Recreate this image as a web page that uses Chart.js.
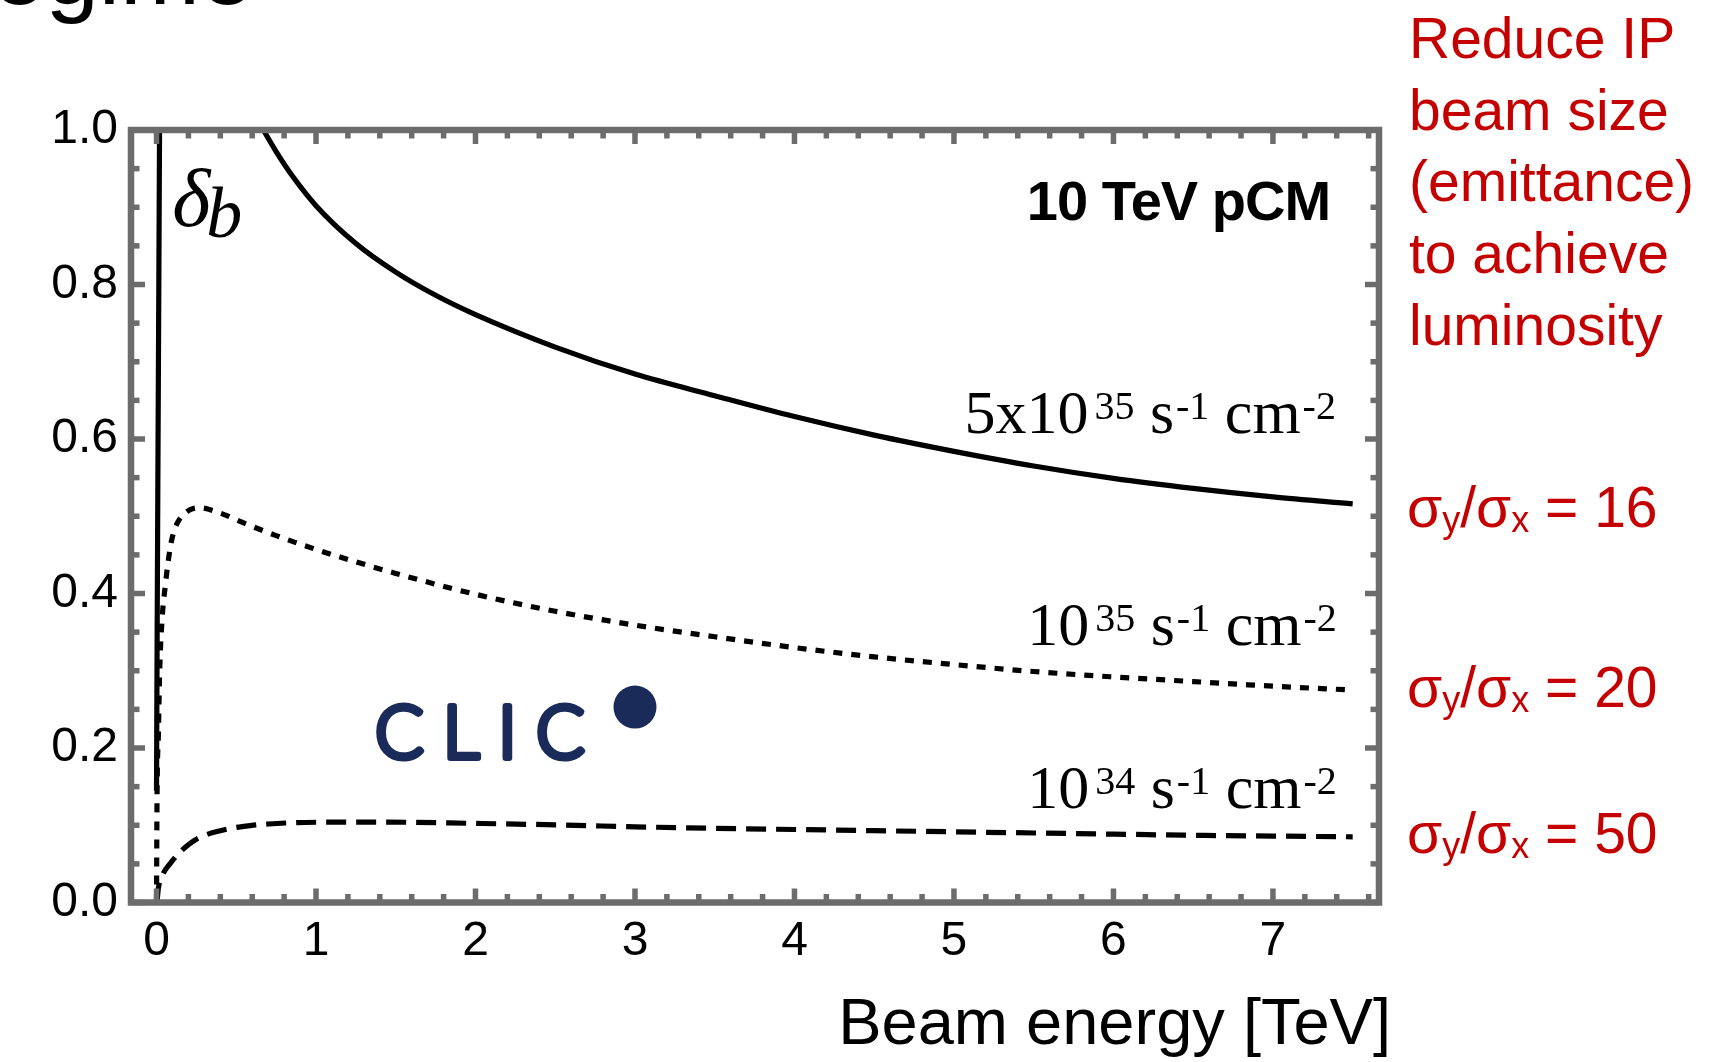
<!DOCTYPE html>
<html>
<head>
<meta charset="utf-8">
<title>Beamstrahlung energy loss vs beam energy</title>
<script src="https://cdn.jsdelivr.net/npm/chart.js@4.4.1/dist/chart.umd.min.js"></script>
<style>
  html, body { margin: 0; padding: 0; background: #ffffff; overflow: hidden; }
  #wrap { position: relative; width: 1727px; height: 1062px; }
</style>
</head>
<body>
<div id="wrap"><canvas id="chart"></canvas></div>
<script>
// Beam energy [TeV] and beamstrahlung energy loss delta_b for three luminosity targets
const highLumiEnergy = [0.67, 0.75, 0.85, 1.0, 1.25, 1.5, 1.75, 2.0, 2.5, 3.0, 3.5, 4.0, 4.5, 5.0, 5.5, 6.0, 6.5, 7.0, 7.5];
const highLumiDelta  = [1.0, 0.972, 0.941, 0.902, 0.853, 0.816, 0.786, 0.761, 0.719, 0.684, 0.656, 0.629, 0.605, 0.584, 0.565, 0.549, 0.536, 0.525, 0.516];

// steep low-energy branch of the 5x10^35 curve
const highLumiLowEnergy = [0.0, 0.004, 0.009, 0.014, 0.019];
const highLumiLowDelta  = [0.145, 0.35, 0.57, 0.78, 1.0];

const midLumiEnergy = [0.0, 0.003, 0.012, 0.02, 0.036, 0.055, 0.072, 0.096, 0.13, 0.19, 0.27, 0.4, 0.55, 0.75, 1.0, 1.25, 1.5, 2.0, 2.5, 3.0, 3.5, 4.0, 4.5, 5.0, 5.5, 6.0, 6.5, 7.0, 7.5];
const midLumiDelta  = [0.0, 0.13, 0.22, 0.30, 0.37, 0.41, 0.44, 0.47, 0.491, 0.506, 0.511, 0.504, 0.491, 0.475, 0.457, 0.441, 0.426, 0.399, 0.377, 0.359, 0.344, 0.330, 0.318, 0.308, 0.299, 0.292, 0.286, 0.280, 0.275];

const lowLumiEnergy = [0.003, 0.012, 0.036, 0.084, 0.156, 0.25, 0.4, 0.59, 0.78, 1.1, 1.45, 2.0, 2.5, 3.0, 3.5, 4.0, 4.5, 5.0, 5.5, 6.0, 6.5, 7.0, 7.5];
const lowLumiDelta  = [0.0, 0.019, 0.035, 0.050, 0.067, 0.082, 0.093, 0.0996, 0.1026, 0.104, 0.104, 0.1024, 0.1005, 0.098, 0.096, 0.0945, 0.093, 0.0915, 0.090, 0.0885, 0.087, 0.086, 0.085];

// CLIC operating point
const clicEnergy = [3.0];
const clicDelta  = [0.253];

// axis ticks
const xTickValues = [0, 1, 2, 3, 4, 5, 6, 7];
const yTickValues = [0, 0.2, 0.4, 0.6, 0.8, 1.0];
const xMinorStep = 0.2;
const yMinorStep = 0.05;

// ---------------------------------------------------------------------------
const W = 1727, H = 1062;
const PLOT = { left: 131, top: 130, right: 1379, bottom: 902.5 };
const FRAME_COLOR = '#6c6c6c';
const RED = '#c40000';
const NAVY = '#1a2b5a';
const SANS = '"Liberation Sans", Arial, Helvetica, sans-serif';
const SERIF = '"Liberation Serif", "Times New Roman", Times, serif';

const toPoints = (xs, ys) => xs.map((v, i) => ({ x: v, y: ys[i] }));

const lineStyle = {
  type: 'line',
  borderColor: '#000000',
  borderWidth: 5.2,
  pointRadius: 0,
  pointHoverRadius: 0,
  fill: false,
  cubicInterpolationMode: 'monotone',
  borderCapStyle: 'butt'
};

// draw a run of text pieces with their own font and vertical shift
function drawRich(ctx, parts, x, baseline, align) {
  const widths = parts.map(p => { ctx.font = p.font; return ctx.measureText(p.text).width + (p.gap || 0); });
  const total = widths.reduce((a, b) => a + b, 0);
  let cx = align === 'right' ? x - total : x;
  ctx.textAlign = 'left';
  ctx.textBaseline = 'alphabetic';
  parts.forEach((p, i) => {
    ctx.font = p.font;
    ctx.fillText(p.text, cx + (p.gap || 0), baseline + (p.dy || 0));
    cx += widths[i];
  });
}

function lumiLabel(mantissa, exponent) {
  const main = '62px ' + SERIF, sup = '40px ' + SERIF;
  return [
    { text: mantissa, font: main },
    { text: exponent, font: sup, dy: -14, gap: 6 },
    { text: ' s', font: main },
    { text: '-1', font: sup, dy: -14, gap: 2 },
    { text: ' cm', font: main },
    { text: '-2', font: sup, dy: -14, gap: 2 }
  ];
}

function ratioLabel(value) {
  const main = '57px ' + SANS, sub = '36px ' + SANS;
  return [
    { text: '\u03C3', font: main },
    { text: 'y', font: sub, dy: 5 },
    { text: '/\u03C3', font: main },
    { text: 'x', font: sub, dy: 5 },
    { text: ' = ' + value, font: main }
  ];
}

const decorPlugin = {
  id: 'decor',
  afterDatasetsDraw(chart) {
    const { ctx, chartArea: a, scales: { x, y } } = chart;
    ctx.save();
    ctx.fillStyle = FRAME_COLOR;
    const tw = 5.5, major = 14, minor = 8.5;

    // ticks on all four sides, pointing inward
    const xTick = (v, len) => {
      const px = x.getPixelForValue(v);
      ctx.fillRect(px - tw / 2, a.top, tw, len);
      ctx.fillRect(px - tw / 2, a.bottom - len, tw, len);
    };
    const yTick = (v, len) => {
      const py = y.getPixelForValue(v);
      ctx.fillRect(a.left, py - tw / 2, len, tw);
      ctx.fillRect(a.right - len, py - tw / 2, len, tw);
    };
    for (let k = Math.ceil(x.min / xMinorStep); k * xMinorStep <= x.max; k++) {
      const v = +(k * xMinorStep).toFixed(4);
      if (xTickValues.includes(v)) continue;
      xTick(v, minor);
    }
    xTickValues.forEach(v => xTick(v, major));
    for (let k = 1; k * yMinorStep < y.max; k++) {
      const v = +(k * yMinorStep).toFixed(4);
      if (yTickValues.some(t => Math.abs(t - v) < 1e-6)) continue;
      yTick(v, minor);
    }
    yTickValues.forEach(v => yTick(v, major));

    // frame
    ctx.strokeStyle = FRAME_COLOR;
    ctx.lineWidth = 6.5;
    ctx.strokeRect(a.left, a.top, a.right - a.left, a.bottom - a.top);
    ctx.restore();
  },
  afterDraw(chart) {
    const { ctx, scales: { x, y } } = chart;
    ctx.save();
    ctx.fillStyle = '#000000';

    // page heading running off the top edge
    ctx.font = '96px ' + SANS;
    ctx.textAlign = 'left';
    ctx.textBaseline = 'alphabetic';
    ctx.fillText('egime', -8, 4);

    // collider label
    ctx.font = 'bold 56px ' + SANS;
    ctx.letterSpacing = '-1px';
    ctx.textAlign = 'right';
    ctx.fillText('10 TeV pCM', x.getPixelForValue(7.358), y.getPixelForValue(0.8835));
    ctx.letterSpacing = '0px';

    // curve labels
    drawRich(ctx, lumiLabel('5x10', '35'), x.getPixelForValue(7.395), y.getPixelForValue(0.6078), 'right');
    drawRich(ctx, lumiLabel('10', '35'), x.getPixelForValue(7.40), y.getPixelForValue(0.3333), 'right');
    drawRich(ctx, lumiLabel('10', '34'), x.getPixelForValue(7.40), y.getPixelForValue(0.1223), 'right');

    // delta_b symbol
    drawRich(ctx, [
      { text: '\u03B4', font: 'italic 82px ' + SERIF },
      { text: 'b', font: 'italic 72px ' + SERIF, dy: 11, gap: -4 }
    ], x.getPixelForValue(0.098), y.getPixelForValue(0.8757), 'left');

    // CLIC marker label
    ctx.fillStyle = NAVY;
    ctx.strokeStyle = NAVY;
    ctx.font = '300 72px Lato, ' + SANS;
    ctx.letterSpacing = '19px';
    ctx.lineWidth = 6;
    ctx.lineJoin = 'round';
    ctx.lineCap = 'round';
    ctx.textAlign = 'left';
    const cx = x.getPixelForValue(1.37), cy = y.getPixelForValue(0.187);
    ctx.fillText('CLIC', cx, cy);
    ctx.strokeText('CLIC', cx, cy);
    ctx.letterSpacing = '0px';

    // axis title
    ctx.fillStyle = '#000000';
    ctx.font = '65px ' + SANS;
    ctx.textAlign = 'right';
    ctx.fillText('Beam energy [TeV]', 1391, 1044);

    // side notes
    ctx.fillStyle = RED;
    ctx.font = '57px ' + SANS;
    ctx.textAlign = 'left';
    ['Reduce IP', 'beam size', '(emittance)', 'to achieve', 'luminosity'].forEach((t, i) => {
      ctx.fillText(t, 1409, 58 + i * 71.7);
    });
    drawRich(ctx, ratioLabel('16'), 1407, 527, 'left');
    drawRich(ctx, ratioLabel('20'), 1407, 707, 'left');
    drawRich(ctx, ratioLabel('50'), 1407, 853, 'left');
    ctx.restore();
  }
};

new Chart(document.getElementById('chart'), {
  type: 'line',
  data: {
    datasets: [
      Object.assign({ label: '5x10^35 (high energy)', data: toPoints(highLumiEnergy, highLumiDelta) }, lineStyle),
      Object.assign({ label: '5x10^35 (low energy)', data: toPoints(highLumiLowEnergy, highLumiLowDelta) }, lineStyle),
      Object.assign({ label: '10^35', data: toPoints(midLumiEnergy, midLumiDelta), borderDash: [9, 9] }, lineStyle),
      Object.assign({ label: '10^34', data: toPoints(lowLumiEnergy, lowLumiDelta), borderDash: [20, 10] }, lineStyle),
      {
        type: 'scatter',
        label: 'CLIC',
        data: toPoints(clicEnergy, clicDelta),
        showLine: false,
        pointRadius: 21.5,
        pointHoverRadius: 21.5,
        pointBackgroundColor: NAVY,
        pointBorderColor: NAVY,
        pointBorderWidth: 0
      }
    ]
  },
  options: {
    responsive: true,
    maintainAspectRatio: false,
    animation: false,
    events: [],
    layout: { padding: { left: 0, top: PLOT.top, right: W - PLOT.right, bottom: 0 } },
    plugins: { legend: { display: false }, tooltip: { enabled: false }, title: { display: false } },
    scales: {
      x: {
        type: 'linear',
        min: -0.16,
        max: 7.665,
        grid: { display: false, drawTicks: false },
        border: { display: false },
        ticks: {
          color: '#000000',
          font: { family: SANS, size: 48 },
          padding: 10,
          maxRotation: 0,
          autoSkip: false,
          callback: v => String(v)
        },
        afterBuildTicks: s => { s.ticks = xTickValues.map(v => ({ value: v })); },
        afterFit: s => { s.height = H - PLOT.bottom; }
      },
      y: {
        type: 'linear',
        min: 0,
        max: 1,
        grid: { display: false, drawTicks: false },
        border: { display: false },
        ticks: {
          color: '#000000',
          font: { family: SANS, size: 48 },
          padding: 13,
          callback: v => Number(v).toFixed(1)
        },
        afterBuildTicks: s => { s.ticks = yTickValues.map(v => ({ value: v })); },
        afterFit: s => { s.width = PLOT.left; }
      }
    }
  },
  plugins: [decorPlugin]
});
</script>
</body>
</html>
